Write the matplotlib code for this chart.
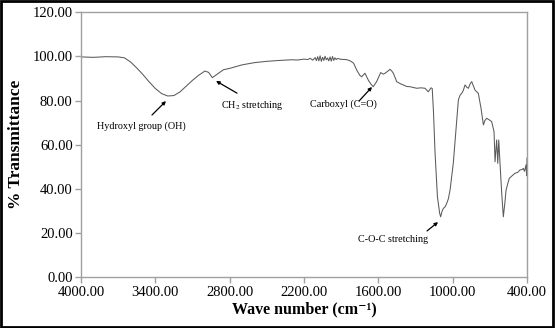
import matplotlib
matplotlib.use("Agg")
import matplotlib.pyplot as plt
from matplotlib.patches import Rectangle

# FTIR spectrum: wavenumber (cm-1) and % transmittance
wavenumber = [
    4000, 3900, 3800, 3700, 3650, 3600, 3550, 3500, 3450, 3400, 3350, 3300,
    3250, 3200, 3150, 3100, 3050, 3000, 2970, 2940, 2900, 2850, 2800, 2700,
    2600, 2500, 2400, 2300, 2250, 2200, 2170, 2150, 2130, 2110, 2100, 2090,
    2080, 2070, 2060, 2050, 2040, 2030, 2020, 2010, 2000, 1990, 1980, 1970,
    1960, 1950, 1940, 1930, 1900, 1860, 1830,
    1800, 1775, 1750, 1735, 1708, 1681, 1660, 1641, 1614, 1581, 1560, 1546,
    1520, 1506, 1490, 1479, 1465, 1452, 1420, 1398, 1370, 1344, 1315, 1290,
    1255, 1223, 1197, 1175, 1165, 1155, 1142, 1123, 1105, 1097, 1085, 1075,
    1060, 1048, 1035, 1021, 995, 973, 954, 940, 927, 915, 900, 885, 873, 860,
    846, 832, 820, 805, 793, 781, 771, 752, 740, 725, 705, 685, 666, 658, 651,
    645, 636, 628, 618, 604, 591, 580, 569, 555, 543, 520, 497, 475, 457, 440,
    430, 420, 408, 403, 400,
]
transmittance = [
    99.8, 99.6, 99.9, 99.8, 99.4, 97.5, 94.8, 91.8, 88.5, 85.5, 83.2, 82.1,
    82.3, 84.0, 86.6, 89.2, 91.5, 93.4, 92.8, 90.4, 92.0, 94.0, 94.6, 96.2,
    97.2, 97.8, 98.2, 98.5, 98.4, 98.8, 98.6, 99.2, 98.3, 99.5, 98.1, 99.9,
    98.0, 100.3, 97.8, 99.6, 98.2, 100.1, 98.5, 99.3, 98.0, 99.8, 97.9, 100.0,
    98.2, 99.4, 98.6, 99.1, 98.7, 98.6, 98.1,
    97.0, 93.9, 91.5, 90.8, 92.4, 89.3, 87.5, 86.3, 88.6, 92.7, 92.0, 92.4,
    93.5, 94.2, 93.3, 92.4, 90.5, 88.6, 87.6, 87.1, 86.4, 86.3, 85.9, 85.6,
    85.8, 85.6, 84.0, 85.8, 85.5, 75.0, 56.1, 36.5, 29.0, 27.4, 30.0, 31.2,
    32.0, 33.5, 35.5, 39.5, 51.6, 66.7, 80.3, 82.5, 83.3, 84.5, 87.1, 86.0,
    85.6, 87.5, 88.6, 86.5, 84.8, 84.0, 83.3, 79.5, 76.5, 69.0, 71.0, 72.0,
    71.3, 70.5, 65.9, 52.3, 58.0, 62.2, 51.6, 62.2, 51.7, 38.0, 27.4, 33.0,
    39.5, 42.5, 44.8, 46.0, 47.1, 47.5, 48.6, 48.8, 49.3, 48.0, 50.9, 46.0,
    54.0,
]

x_ticks = [4000, 3400, 2800, 2200, 1600, 1000, 400]
y_ticks = [0, 20, 40, 60, 80, 100, 120]

# Band assignments: (label, text position, arrow tail, arrow head, alignment)
bands = [
    ("Hydroxyl group (OH)", (3516, 68.5), (3427, 73.5), (3314, 79.8), "center"),
    ("CH$_2$ stretching", (2870, 77.6), (2741, 83.4), (2910, 88.9), "left"),
    ("Carboxyl (C=O)", (1881, 78.5), (1756, 79.8), (1651, 86.2), "center"),
    ("C-O-C stretching", (1482, 16.9), (1207, 21.0), (1118, 25.0), "center"),
]

plt.rcParams["font.family"] = ["Liberation Serif", "DejaVu Serif"]
plt.rcParams["mathtext.fontset"] = "stix"

fig = plt.figure(figsize=(5.55, 3.28), dpi=100)
ax = fig.add_axes([81 / 555, 1 - 277.3 / 328, 446 / 555, 265 / 328])

ax.plot(wavenumber, transmittance, color="#5a5a5a", lw=0.75)

ax.set_xlim(4000, 400)
ax.set_ylim(0, 120)
ax.set_xticks(x_ticks)
ax.set_xticklabels([f"{v:.2f}" for v in x_ticks])
ax.set_yticks(y_ticks)
ax.set_yticklabels([f"{v:.2f}" for v in y_ticks])

for s in ax.spines.values():
    s.set_color("#a0a0a0")
    s.set_linewidth(1.0)
ax.tick_params(axis="both", direction="out", length=4, width=1.0,
               color="#a0a0a0", labelsize=10.5, pad=2)

ax.set_xlabel("Wave number (cm\u207b\u00b9)", fontsize=11.5,
              fontweight="bold", labelpad=2)
ax.set_ylabel("% Transmittance", fontsize=12.5, fontweight="bold", labelpad=6)

for label, txt, tail, head, ha in bands:
    ax.text(txt[0], txt[1], label, fontsize=7.3, ha=ha, va="center")
    ax.annotate("", xy=head, xytext=tail,
                arrowprops=dict(arrowstyle="-|>", color="black", lw=0.9,
                                mutation_scale=5, shrinkA=0, shrinkB=0))

fig.patches.append(Rectangle((0.002, 0.003), 0.994, 0.994,
                             transform=fig.transFigure, fill=False,
                             edgecolor="black", lw=2))

fig.savefig("out.png", dpi=100)
